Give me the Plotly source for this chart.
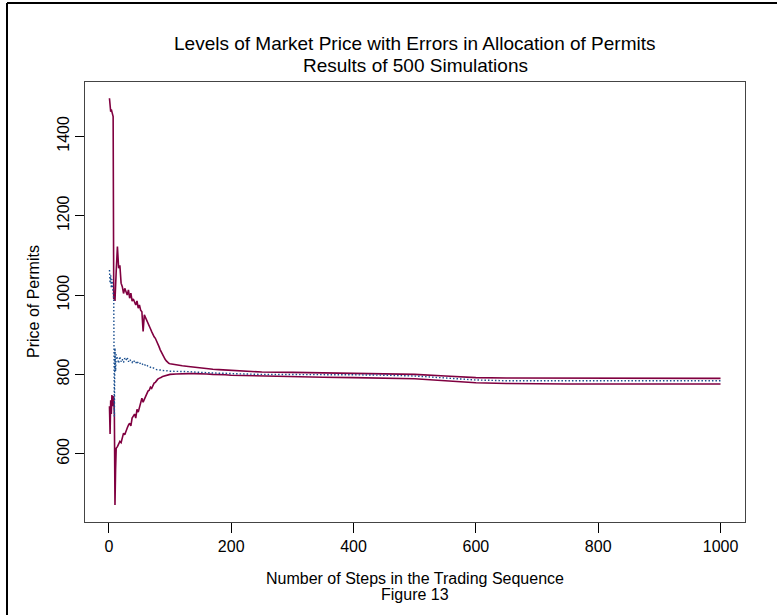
import plotly.graph_objects as go

# Trading steps (x positions)
steps = [1, 2, 3, 4, 5, 6, 7, 8, 9, 10, 11, 12,
         14, 16, 18, 20, 22, 24, 26, 28, 30, 32, 34, 36, 38, 40,
         42, 44, 46, 48, 50, 52, 54, 56, 58, 60, 62, 64, 66, 68, 70,
         72, 74, 76, 78, 80, 82, 84, 86, 88, 90, 92, 94, 96, 98, 100,
         110, 120, 130, 140, 150, 160, 170, 180, 190, 200,
         250, 300, 350, 400, 450, 500, 550, 600, 650, 700, 750, 800, 850, 900, 950, 1000]

upper_band = [1496, 1475, 1462, 1468, 1458, 1460, 1450, 990, 1000, 985, 1040, 1060,
              1122, 1068, 1075, 1030, 1021, 1004, 1017, 1010, 1000, 1013, 992, 1005, 985, 990,
              983, 975, 985, 967, 975, 962, 958, 908, 950, 942, 937, 930, 920, 915, 908,
              900, 895, 891, 885, 878, 870, 862, 855, 849, 843, 838, 834, 830, 828, 827,
              824, 822, 820, 818, 816, 815, 813, 812, 811, 810,
              806, 805, 804, 803, 802, 800, 796, 792, 791, 791, 790, 790, 790, 790, 790, 790]

mean_price = [1063, 1030, 1050, 1018, 1040, 1020, 1010, 990, 694, 866, 808, 850,
              840, 828, 845, 832, 838, 830, 841, 836, 843, 832, 838, 834, 830, 836,
              832, 828, 834, 828, 830, 826, 828, 824, 826, 822, 824, 820, 820, 818, 816,
              817, 814, 813, 812, 812, 811, 811, 810, 810, 810, 809, 809, 809, 808, 808,
              808, 807, 807, 806, 805, 805, 804, 803, 803, 802,
              800, 800, 799, 799, 798, 796, 791, 786, 784, 784, 784, 784, 784, 784, 784, 784]

lower_band = [720, 650, 735, 700, 748, 720, 745, 740, 700, 471, 560, 614,
              618, 625, 631, 628, 640, 652, 648, 660, 665, 672, 677, 670, 690, 695,
              700, 690, 712, 705, 719, 725, 740, 730, 738, 745, 750, 758, 760, 768, 765,
              772, 778, 780, 785, 788, 790, 791, 793, 795, 796, 797, 798, 799, 800, 800,
              801, 802, 802, 802, 802, 801, 800, 800, 799, 798,
              796, 794, 793, 792, 791, 789, 784, 779, 777, 776, 776, 776, 776, 776, 776, 776]

x_ticks = [0, 200, 400, 600, 800, 1000]
y_ticks = [600, 800, 1000, 1200, 1400]

FONT = "Liberation Sans, Arial, Helvetica, sans-serif"
RED = "#800040"
BLUE = "#1A4F8F"

L, T, W, H = 85, 82, 660, 440   # plot area in pixels


def px(xp):
    return (xp - L) / W


def py(yp):
    return (T + H - yp) / H


fig = go.Figure()
fig.add_trace(go.Scatter(x=steps, y=upper_band, mode="lines",
                         line=dict(color=RED, width=1.6), showlegend=False))
fig.add_trace(go.Scatter(x=steps, y=lower_band, mode="lines",
                         line=dict(color=RED, width=1.6), showlegend=False))
fig.add_trace(go.Scatter(x=steps, y=mean_price, mode="lines",
                         line=dict(color=BLUE, width=1.4, dash="1.5px,2px"), showlegend=False))

fig.update_layout(
    width=777, height=615, autosize=False,
    margin=dict(l=L, r=777 - L - W, t=T, b=615 - T - H),
    paper_bgcolor="white", plot_bgcolor="white",
    font=dict(family=FONT, size=16, color="black"),
    xaxis=dict(range=[-39, 1040], tickvals=x_ticks, ticks="outside", ticklen=10,
               tickcolor="black", tickwidth=1, showgrid=False, zeroline=False,
               showline=True, linecolor="#444", linewidth=1, mirror=True,
               tickfont=dict(size=16)),
    yaxis=dict(range=[428, 1537], tickvals=y_ticks, ticks="outside", ticklen=9,
               tickcolor="black", tickwidth=1, showgrid=False, zeroline=False,
               showline=True, linecolor="#444", linewidth=1, mirror=True,
               tickangle=-90, tickfont=dict(size=16)),
    annotations=[
        dict(text="Levels of Market Price with Errors in Allocation of Permits",
             x=0.5, y=py(44), xref="paper", yref="paper",
             showarrow=False, font=dict(size=19), xanchor="center", yanchor="middle"),
        dict(text="Results of 500 Simulations",
             x=0.5, y=py(65), xref="paper", yref="paper",
             showarrow=False, font=dict(size=19), xanchor="center", yanchor="middle"),
        dict(text="Number of Steps in the Trading Sequence",
             x=0.5, y=py(578), xref="paper", yref="paper",
             showarrow=False, font=dict(size=16), xanchor="center", yanchor="middle"),
        dict(text="Figure 13",
             x=0.5, y=py(594), xref="paper", yref="paper",
             showarrow=False, font=dict(size=16), xanchor="center", yanchor="middle"),
        dict(text="Price of Permits", textangle=-90,
             x=px(33), y=0.5, xref="paper", yref="paper",
             showarrow=False, font=dict(size=16), xanchor="center", yanchor="middle"),
    ],
    shapes=[
        dict(type="line", xref="paper", yref="paper",
             x0=px(7), x1=px(800), y0=py(3), y1=py(3),
             line=dict(color="black", width=2)),
        dict(type="line", xref="paper", yref="paper",
             x0=px(7), x1=px(7), y0=py(3), y1=py(640),
             line=dict(color="black", width=2)),
    ],
)

fig.write_html("out.html", config={"displayModeBar": False},
               post_script="document.body.style.margin='0px';")
